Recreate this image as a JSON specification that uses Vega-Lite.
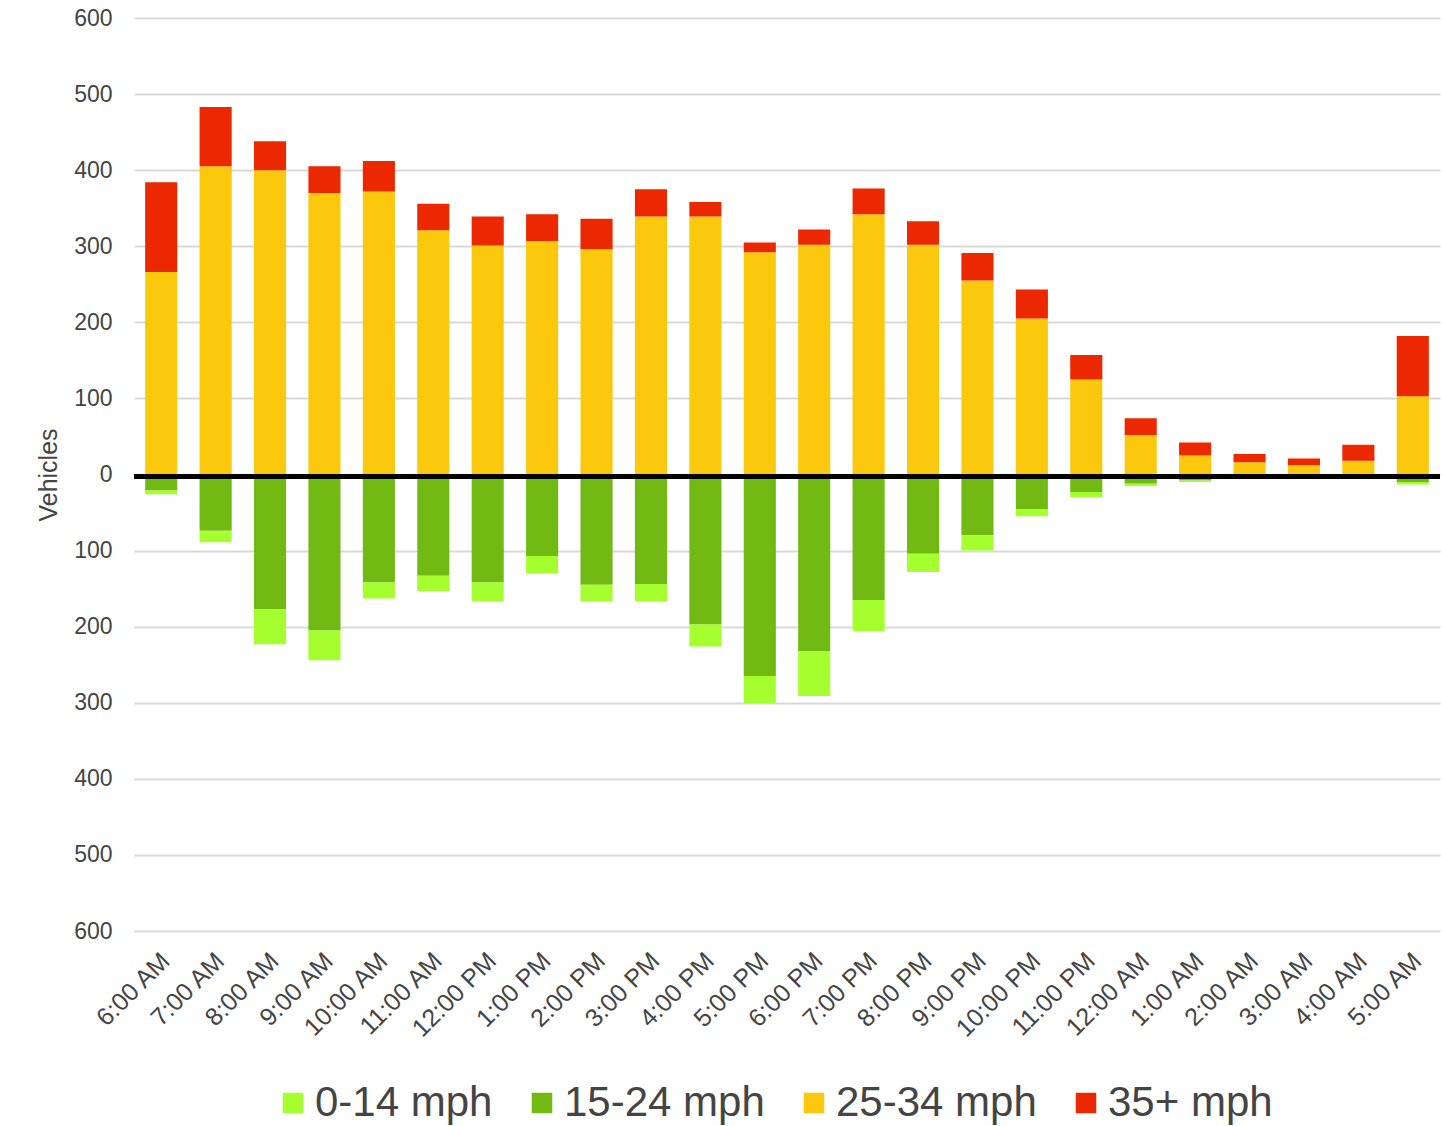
{
  "$schema": "https://vega.github.io/schema/vega-lite/v6.json",
  "width": 1306,
  "height": 913,
  "autosize": {"type": "none"},
  "padding": {"left": 134, "top": 18, "right": 2, "bottom": 195},
  "background": "white",
  "config": {
    "font": "Liberation Sans",
    "view": {"stroke": null},
    "axis": {"labelColor": "#444444", "titleColor": "#444444", "labelFont": "Liberation Sans", "titleFont": "Liberation Sans"}
  },
  "data": {"values": [
    {"hour": "6:00 AM", "speed": "25-34 mph", "vehicles": 266}, {"hour": "6:00 AM", "speed": "35+ mph", "vehicles": 118}, {"hour": "6:00 AM", "speed": "15-24 mph", "vehicles": -21}, {"hour": "6:00 AM", "speed": "0-14 mph", "vehicles": -5},
    {"hour": "7:00 AM", "speed": "25-34 mph", "vehicles": 405}, {"hour": "7:00 AM", "speed": "35+ mph", "vehicles": 78}, {"hour": "7:00 AM", "speed": "15-24 mph", "vehicles": -74}, {"hour": "7:00 AM", "speed": "0-14 mph", "vehicles": -15},
    {"hour": "8:00 AM", "speed": "25-34 mph", "vehicles": 400}, {"hour": "8:00 AM", "speed": "35+ mph", "vehicles": 38}, {"hour": "8:00 AM", "speed": "15-24 mph", "vehicles": -177}, {"hour": "8:00 AM", "speed": "0-14 mph", "vehicles": -46},
    {"hour": "9:00 AM", "speed": "25-34 mph", "vehicles": 370}, {"hour": "9:00 AM", "speed": "35+ mph", "vehicles": 35}, {"hour": "9:00 AM", "speed": "15-24 mph", "vehicles": -205}, {"hour": "9:00 AM", "speed": "0-14 mph", "vehicles": -39},
    {"hour": "10:00 AM", "speed": "25-34 mph", "vehicles": 372}, {"hour": "10:00 AM", "speed": "35+ mph", "vehicles": 40}, {"hour": "10:00 AM", "speed": "15-24 mph", "vehicles": -142}, {"hour": "10:00 AM", "speed": "0-14 mph", "vehicles": -21},
    {"hour": "11:00 AM", "speed": "25-34 mph", "vehicles": 321}, {"hour": "11:00 AM", "speed": "35+ mph", "vehicles": 35}, {"hour": "11:00 AM", "speed": "15-24 mph", "vehicles": -133}, {"hour": "11:00 AM", "speed": "0-14 mph", "vehicles": -20},
    {"hour": "12:00 PM", "speed": "25-34 mph", "vehicles": 301}, {"hour": "12:00 PM", "speed": "35+ mph", "vehicles": 38}, {"hour": "12:00 PM", "speed": "15-24 mph", "vehicles": -142}, {"hour": "12:00 PM", "speed": "0-14 mph", "vehicles": -25},
    {"hour": "1:00 PM", "speed": "25-34 mph", "vehicles": 307}, {"hour": "1:00 PM", "speed": "35+ mph", "vehicles": 35}, {"hour": "1:00 PM", "speed": "15-24 mph", "vehicles": -107}, {"hour": "1:00 PM", "speed": "0-14 mph", "vehicles": -23},
    {"hour": "2:00 PM", "speed": "25-34 mph", "vehicles": 296}, {"hour": "2:00 PM", "speed": "35+ mph", "vehicles": 40}, {"hour": "2:00 PM", "speed": "15-24 mph", "vehicles": -145}, {"hour": "2:00 PM", "speed": "0-14 mph", "vehicles": -22},
    {"hour": "3:00 PM", "speed": "25-34 mph", "vehicles": 339}, {"hour": "3:00 PM", "speed": "35+ mph", "vehicles": 36}, {"hour": "3:00 PM", "speed": "15-24 mph", "vehicles": -144}, {"hour": "3:00 PM", "speed": "0-14 mph", "vehicles": -23},
    {"hour": "4:00 PM", "speed": "25-34 mph", "vehicles": 339}, {"hour": "4:00 PM", "speed": "35+ mph", "vehicles": 19}, {"hour": "4:00 PM", "speed": "15-24 mph", "vehicles": -197}, {"hour": "4:00 PM", "speed": "0-14 mph", "vehicles": -29},
    {"hour": "5:00 PM", "speed": "25-34 mph", "vehicles": 292}, {"hour": "5:00 PM", "speed": "35+ mph", "vehicles": 13}, {"hour": "5:00 PM", "speed": "15-24 mph", "vehicles": -265}, {"hour": "5:00 PM", "speed": "0-14 mph", "vehicles": -36},
    {"hour": "6:00 PM", "speed": "25-34 mph", "vehicles": 302}, {"hour": "6:00 PM", "speed": "35+ mph", "vehicles": 20}, {"hour": "6:00 PM", "speed": "15-24 mph", "vehicles": -232}, {"hour": "6:00 PM", "speed": "0-14 mph", "vehicles": -59},
    {"hour": "7:00 PM", "speed": "25-34 mph", "vehicles": 342}, {"hour": "7:00 PM", "speed": "35+ mph", "vehicles": 34}, {"hour": "7:00 PM", "speed": "15-24 mph", "vehicles": -165}, {"hour": "7:00 PM", "speed": "0-14 mph", "vehicles": -41},
    {"hour": "8:00 PM", "speed": "25-34 mph", "vehicles": 302}, {"hour": "8:00 PM", "speed": "35+ mph", "vehicles": 31}, {"hour": "8:00 PM", "speed": "15-24 mph", "vehicles": -104}, {"hour": "8:00 PM", "speed": "0-14 mph", "vehicles": -24},
    {"hour": "9:00 PM", "speed": "25-34 mph", "vehicles": 255}, {"hour": "9:00 PM", "speed": "35+ mph", "vehicles": 36}, {"hour": "9:00 PM", "speed": "15-24 mph", "vehicles": -80}, {"hour": "9:00 PM", "speed": "0-14 mph", "vehicles": -20},
    {"hour": "10:00 PM", "speed": "25-34 mph", "vehicles": 205}, {"hour": "10:00 PM", "speed": "35+ mph", "vehicles": 38}, {"hour": "10:00 PM", "speed": "15-24 mph", "vehicles": -46}, {"hour": "10:00 PM", "speed": "0-14 mph", "vehicles": -9},
    {"hour": "11:00 PM", "speed": "25-34 mph", "vehicles": 125}, {"hour": "11:00 PM", "speed": "35+ mph", "vehicles": 32}, {"hour": "11:00 PM", "speed": "15-24 mph", "vehicles": -23}, {"hour": "11:00 PM", "speed": "0-14 mph", "vehicles": -7},
    {"hour": "12:00 AM", "speed": "25-34 mph", "vehicles": 52}, {"hour": "12:00 AM", "speed": "35+ mph", "vehicles": 22}, {"hour": "12:00 AM", "speed": "15-24 mph", "vehicles": -12}, {"hour": "12:00 AM", "speed": "0-14 mph", "vehicles": -3},
    {"hour": "1:00 AM", "speed": "25-34 mph", "vehicles": 25}, {"hour": "1:00 AM", "speed": "35+ mph", "vehicles": 17}, {"hour": "1:00 AM", "speed": "15-24 mph", "vehicles": -8}, {"hour": "1:00 AM", "speed": "0-14 mph", "vehicles": -2},
    {"hour": "2:00 AM", "speed": "25-34 mph", "vehicles": 16}, {"hour": "2:00 AM", "speed": "35+ mph", "vehicles": 11}, {"hour": "2:00 AM", "speed": "15-24 mph", "vehicles": -3}, {"hour": "2:00 AM", "speed": "0-14 mph", "vehicles": -1},
    {"hour": "3:00 AM", "speed": "25-34 mph", "vehicles": 12}, {"hour": "3:00 AM", "speed": "35+ mph", "vehicles": 9}, {"hour": "3:00 AM", "speed": "15-24 mph", "vehicles": -2}, {"hour": "3:00 AM", "speed": "0-14 mph", "vehicles": -1},
    {"hour": "4:00 AM", "speed": "25-34 mph", "vehicles": 18}, {"hour": "4:00 AM", "speed": "35+ mph", "vehicles": 21}, {"hour": "4:00 AM", "speed": "15-24 mph", "vehicles": -3}, {"hour": "4:00 AM", "speed": "0-14 mph", "vehicles": -1},
    {"hour": "5:00 AM", "speed": "25-34 mph", "vehicles": 103}, {"hour": "5:00 AM", "speed": "35+ mph", "vehicles": 79}, {"hour": "5:00 AM", "speed": "15-24 mph", "vehicles": -10}, {"hour": "5:00 AM", "speed": "0-14 mph", "vehicles": -3}
  ]},
  "encoding": {
    "x": {
      "field": "hour", "type": "nominal",
      "sort": ["6:00 AM","7:00 AM","8:00 AM","9:00 AM","10:00 AM","11:00 AM","12:00 PM","1:00 PM","2:00 PM","3:00 PM","4:00 PM","5:00 PM","6:00 PM","7:00 PM","8:00 PM","9:00 PM","10:00 PM","11:00 PM","12:00 AM","1:00 AM","2:00 AM","3:00 AM","4:00 AM","5:00 AM"],
      "scale": {"paddingInner": 0.41, "paddingOuter": 0.205},
      "axis": {"title": null, "labelAngle": -45, "labelFontSize": 25, "ticks": false, "domain": false, "grid": false, "labelPadding": 17, "labelOffset": -4}
    },
    "y": {
      "field": "vehicles", "type": "quantitative",
      "scale": {"domain": [-600, 600], "nice": false},
      "axis": {
        "title": "Vehicles", "titleFontSize": 25, "titleFontWeight": "normal", "titlePadding": 12,
        "values": [-600,-500,-400,-300,-200,-100,0,100,200,300,400,500,600],
        "labelExpr": "format(abs(datum.value), 'd')",
        "labelFontSize": 23, "labelPadding": 22, "ticks": false, "domain": false,
        "grid": true, "gridColor": "#d9d9d9", "gridWidth": 2
      }
    },
    "color": {
      "field": "speed", "type": "nominal",
      "scale": {"domain": ["0-14 mph","15-24 mph","25-34 mph","35+ mph"], "range": ["#a5ff2f","#73b913","#fbc80e","#ec2800"]},
      "legend": {
        "title": null, "orient": "none", "legendX": 138, "legendY": 1064, "direction": "horizontal", "columns": 4,
        "symbolType": "square", "symbolSize": 420, "symbolStrokeWidth": 0,
        "labelFontSize": 42, "labelColor": "#444444", "labelOffset": 1, "columnPadding": 28, "labelLimit": 400
      }
    }
  },
  "layer": [
    {
      "transform": [{"filter": "datum.vehicles > 0"}],
      "mark": {"type": "bar"},
      "encoding": {"order": {"field": "speed", "sort": "ascending"}}
    },
    {
      "transform": [{"filter": "datum.vehicles < 0"}],
      "mark": {"type": "bar"},
      "encoding": {"order": {"field": "speed", "sort": "descending"}}
    },
    {
      "mark": {"type": "rule", "color": "black", "strokeWidth": 5, "yOffset": 2},
      "encoding": {"y": {"datum": 0}, "x": null, "color": null}
    }
  ]
}
